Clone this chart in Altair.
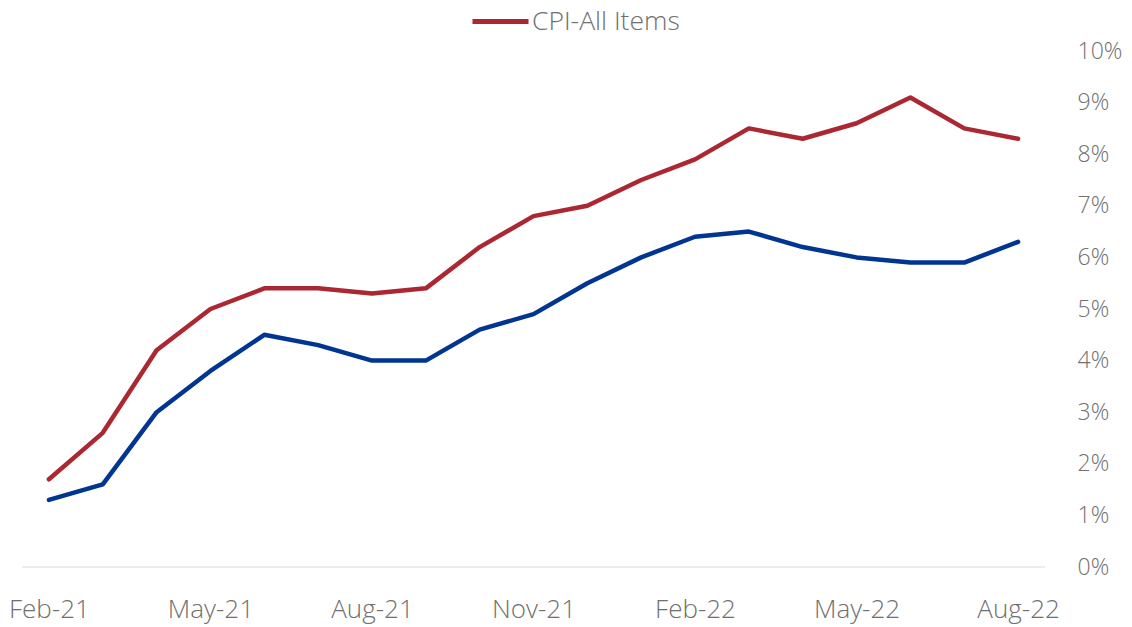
import altair as alt
import pandas as pd

months = ["Feb-21", "Mar-21", "Apr-21", "May-21", "Jun-21", "Jul-21", "Aug-21", "Sep-21",
          "Oct-21", "Nov-21", "Dec-21", "Jan-22", "Feb-22", "Mar-22", "Apr-22", "May-22",
          "Jun-22", "Jul-22", "Aug-22"]
cpi_all = [1.7, 2.6, 4.2, 5.0, 5.4, 5.4, 5.3, 5.4, 6.2, 6.8, 7.0, 7.5, 7.9, 8.5, 8.3, 8.6, 9.1, 8.5, 8.3]
cpi_core = [1.3, 1.6, 3.0, 3.8, 4.5, 4.3, 4.0, 4.0, 4.6, 4.9, 5.5, 6.0, 6.4, 6.5, 6.2, 6.0, 5.9, 5.9, 6.3]
series_names = ["CPI-All Items", "Core CPI"]
series_colors = ["#AB2731", "#003591"]
x_tick_labels = ["Feb-21", "May-21", "Aug-21", "Nov-21", "Feb-22", "May-22", "Aug-22"]
y_ticks = [i / 100 for i in range(0, 11)]

rows = []
for name, vals in zip(series_names, [cpi_all, cpi_core]):
    for m, v in zip(months, vals):
        rows.append({"month": m, "series": name, "value": v / 100})
df = pd.DataFrame(rows)

FONT = "Open Sans"
GREY = "#707070"

x_enc = alt.X("month:O", sort=months,
              scale=alt.Scale(type="point", padding=0.5),
              axis=alt.Axis(values=x_tick_labels, title=None, domain=False, ticks=False,
                            labelAngle=0, labelFont=FONT, labelFontSize=26,
                            labelFontWeight=300,
                            labelColor=GREY, labelPadding=29))

lines = alt.Chart(df).mark_line(strokeWidth=4.5, strokeCap="round", strokeJoin="round").encode(
    x=x_enc,
    y=alt.Y("value:Q", scale=alt.Scale(domain=[0, 0.1]),
            axis=alt.Axis(orient="right", values=y_ticks, format=".0%", title=None,
                          domain=False, ticks=False, grid=False, labelAlign="left",
                          labelPadding=32, labelFont=FONT, labelFontSize=23,
                          labelFontWeight=300, labelColor=GREY)),
    color=alt.Color("series:N",
                    scale=alt.Scale(domain=series_names, range=series_colors),
                    legend=alt.Legend(values=["CPI-All Items"], title=None, orient="none",
                                      legendX=462, legendY=-46, symbolType="M-2,0L2,0",
                                      symbolSize=784, symbolStrokeWidth=5,
                                      labelFont=FONT, labelFontSize=26.5, labelFontWeight=300,
                                      labelColor=GREY, labelOffset=15)),
)

base = alt.Chart(pd.DataFrame({"v": [0]})).mark_rule(color="#D9D9D9", strokeWidth=1.2).encode(
    y=alt.Y("v:Q", scale=alt.Scale(domain=[0, 0.1]))
)

chart = alt.layer(base, lines).properties(
    width=1023, height=516,
    autosize=alt.AutoSizeParams(type="none"),
    padding={"left": 14, "top": 43, "right": 79, "bottom": 62},
).configure_view(stroke=None)

chart.save("out.html", embed_options={"renderer": "svg", "actions": False})
